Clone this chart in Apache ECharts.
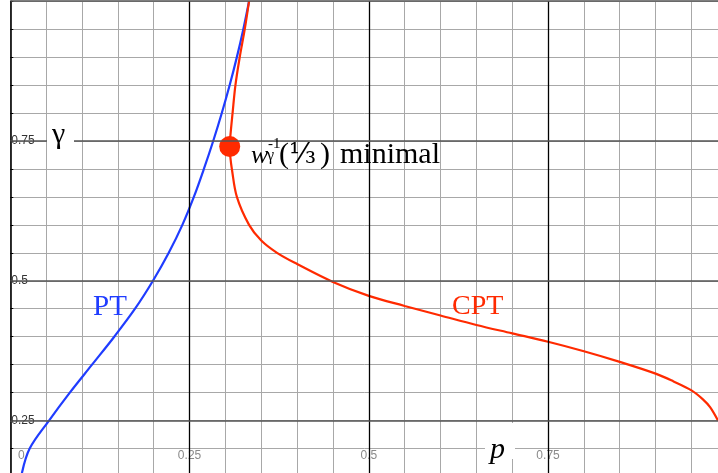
<!DOCTYPE html>
<html><head><meta charset="utf-8">
<script src="https://cdn.jsdelivr.net/npm/echarts@6/dist/echarts.min.js"></script>
<style>html,body{margin:0;padding:0;background:#fff}#c{width:718px;height:473px}</style>
</head><body><div id="c"></div>
<script>
// PT curve: p and gamma
const ptP     = [0.016, 0.027, 0.054, 0.083, 0.114, 0.145, 0.174, 0.199, 0.221, 0.240, 0.256, 0.270, 0.283, 0.295, 0.306, 0.316, 0.325, 0.333];
const ptGamma = [0.155, 0.200, 0.250, 0.300, 0.350, 0.400, 0.450, 0.500, 0.550, 0.600, 0.650, 0.700, 0.750, 0.800, 0.850, 0.900, 0.950, 1.000];
// CPT curve: p and gamma
const cptP     = [0.333, 0.327, 0.320, 0.314, 0.310, 0.307, 0.306, 0.307, 0.309, 0.316, 0.333, 0.350, 0.372, 0.400, 0.450, 0.500, 0.550, 0.600, 0.650, 0.700, 0.750, 0.800, 0.850, 0.900, 0.925, 0.950, 0.966, 0.976, 0.987];
const cptGamma = [1.000, 0.950, 0.900, 0.850, 0.800, 0.760, 0.740, 0.720, 0.700, 0.650, 0.600, 0.572, 0.550, 0.530, 0.498, 0.473, 0.455, 0.438, 0.421, 0.406, 0.391, 0.374, 0.355, 0.334, 0.320, 0.304, 0.288, 0.274, 0.250];
// highlighted minimal point
const minP = [0.306];
const minGamma = [0.740];
// tick labels
const xTickLabels = ['0', '0.25', '0.5', '0.75'];
const yTickLabels = ['0.25', '0.5', '0.75'];
const xMajor = [0.25, 0.5, 0.75];
const yMajor = [0.25, 0.5, 0.75, 1.0];

const BLUE = '#1f3cff', RED = '#ff2a00';
const chart = echarts.init(document.getElementById('c'), null, {renderer: 'canvas'});
const isQuarter = v => Math.abs(v * 4 - Math.round(v * 4)) < 1e-6;
const fmt = v => String(Math.round(v * 100) / 100);

const option = {
  animation: false,
  backgroundColor: '#fff',
  grid: {left: 10.3, top: 1.2, width: 717, height: 475.3, containLabel: false, outerBoundsMode: 'none'},
  xAxis: [{
    type: 'value', min: 0, max: 1, interval: 0.05,
    axisLine: {show: false}, axisTick: {show: false},
    splitLine: {show: true, lineStyle: {color: '#a8a8a8', width: 1}},
    axisLabel: {
      show: true, inside: true, margin: 15, fontSize: 12, color: '#8a8a8a',
      fontFamily: 'Liberation Sans, Arial, sans-serif',
      formatter: v => {
        if (!isQuarter(v) || v > 0.8) return '';
        const s = fmt(v);
        if (!xTickLabels.includes(s)) return '';
        return s === '0' ? '{z|0}' : s;
      },
      rich: {z: {padding: [0, 0, 0, 22], fontSize: 12, color: '#8a8a8a'}}
    }
  }],
  yAxis: [{
    type: 'value', min: 0.15, max: 1.0, interval: 0.05,
    axisLine: {show: true, lineStyle: {color: '#000', width: 1.6}},
    axisTick: {show: true, inside: true, length: 3, lineStyle: {color: '#000', width: 1}},
    splitLine: {show: true, lineStyle: {color: '#a8a8a8', width: 1}},
    axisLabel: {
      show: true, inside: true, margin: 1, fontSize: 12, color: '#333',
      fontFamily: 'Liberation Sans, Arial, sans-serif',
      formatter: v => { const s = fmt(v); return yTickLabels.includes(s) ? s : ''; }
    }
  }],
  series: [
    {
      type: 'line', data: [], z: 1, silent: true,
      markLine: {
        silent: true, symbol: 'none', label: {show: false}, animation: false,
        data: [
          ...xMajor.map(v => ({xAxis: v, lineStyle: {color: '#000', width: 1.3, type: 'solid'}})),
          ...yMajor.map(v => ({yAxis: v, lineStyle: {color: '#555', width: 1.6, type: 'solid'}}))
        ]
      }
    },
    {
      type: 'line', name: 'PT', z: 3, showSymbol: false, smooth: 0.35,
      data: ptP.map((p, i) => [p, ptGamma[i]]),
      lineStyle: {color: BLUE, width: 2.2}
    },
    {
      type: 'line', name: 'CPT', z: 3, showSymbol: false, smooth: 0.35,
      data: cptP.map((p, i) => [p, cptGamma[i]]),
      lineStyle: {color: RED, width: 2.2}
    },
    {
      type: 'scatter', z: 4, symbolSize: 21,
      data: minP.map((p, i) => [p, minGamma[i]]),
      itemStyle: {color: RED, opacity: 1}
    }
  ],
  graphic: [
    {type: 'rect', z: 50, shape: {x: 47, y: 127, width: 27, height: 24}, style: {fill: '#fff'}},
    {type: 'text', z: 51, x: 52, y: 135, style: {text: 'γ', font: '30px "Liberation Serif"', fill: '#000', verticalAlign: 'middle'}},
    {type: 'rect', z: 50, shape: {x: 485, y: 423, width: 30, height: 36}, style: {fill: '#fff'}},
    {type: 'text', z: 51, x: 490, y: 450, style: {text: 'p', font: 'italic 30px "Liberation Serif"', fill: '#000', verticalAlign: 'middle'}},
    {type: 'text', z: 51, x: 93, y: 307, style: {text: 'PT', font: '29px "Liberation Serif"', fill: BLUE, verticalAlign: 'middle'}},
    {type: 'text', z: 51, x: 452, y: 307, style: {text: 'CPT', font: '28px "Liberation Serif"', fill: RED, verticalAlign: 'middle'}},
    {type: 'text', z: 51, x: 251, y: 156, style: {text: 'w', font: 'italic 26px "Liberation Serif"', fill: '#000', verticalAlign: 'middle'}},
    {type: 'text', z: 51, x: 268, y: 144, style: {text: '-1', font: '15px "Liberation Serif"', fill: '#000', verticalAlign: 'middle'}},
    {type: 'text', z: 51, x: 267, y: 156, style: {text: 'γ', font: '16px "Liberation Serif"', fill: '#000', verticalAlign: 'middle'}},
    {type: 'text', z: 51, x: 279, y: 155, style: {text: '(', font: '30px "Liberation Serif"', fill: '#000', verticalAlign: 'middle'}},
    {type: 'text', z: 51, x: 289, y: 156, style: {text: '⅓', font: '28px "DejaVu Serif"', fill: '#000', verticalAlign: 'middle'}},
    {type: 'text', z: 51, x: 320, y: 155, style: {text: ')', font: '30px "Liberation Serif"', fill: '#000', verticalAlign: 'middle'}},
    {type: 'text', z: 51, x: 340, y: 155, style: {text: 'minimal', font: '30px "Liberation Serif"', fill: '#000', verticalAlign: 'middle'}}
  ]
};
chart.setOption(option);
</script>
</body></html>
